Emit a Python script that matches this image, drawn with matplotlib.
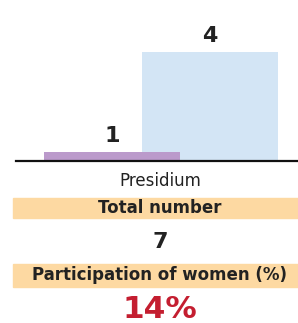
import matplotlib
matplotlib.use("Agg")
import matplotlib.pyplot as plt
from matplotlib.patches import Rectangle

categories = ["Women", "Men"]
values = [1, 4]
bar_colors = ["#BB9ACB", "#D3E5F5"]
group_label = "Presidium"
total_label = "Total number"
total_value = "7"
share_label = "Participation of women (%)"
share_value = "14%"

W, H = 298, 323
fig = plt.figure(figsize=(W / 100, H / 100), dpi=100)
plt.rcParams['font.family'] = ['DejaVu Sans']

def fx(px):
    return px / W

def fy(py):
    return 1 - py / H

# bar axes
ax_left, ax_right, ax_bottom, ax_top = 16, 298, 161, 21
ax = fig.add_axes([fx(ax_left), fy(ax_bottom), fx(ax_right - ax_left), (ax_bottom - ax_top) / H])
ax.set_yscale('function', functions=(lambda v: v ** 1.8, lambda v: v ** (1 / 1.8)))
positions = [0, 0.72]
# draw men first so women's bar sits on top
for i in [1, 0]:
    ax.bar(positions[i], values[i], width=1.0, color=bar_colors[i], zorder=2 + (1 - i))
    ax.annotate(str(values[i]), (positions[i], values[i]), xytext=(0, 11.5),
                textcoords='offset points', ha='center', va='center',
                fontsize=16, fontweight='bold', color='#222222')
ax.set_xlim(-0.706, 1.368)
ax.set_ylim(0, 4.6)
for s in ['top', 'right', 'left']:
    ax.spines[s].set_visible(False)
ax.spines['bottom'].set_linewidth(1.6)
ax.spines['bottom'].set_color('#111111')
ax.spines['bottom'].set_zorder(5)
ax.set_xticks([])
ax.set_yticks([])
ax.patch.set_alpha(0)

band_color = "#FDD9A2"
fig.patches.append(Rectangle((fx(13), fy(218)), fx(298 - 13), 20 / H,
                             transform=fig.transFigure, color=band_color, zorder=0))
fig.patches.append(Rectangle((fx(13), fy(287)), fx(298 - 13), 23 / H,
                             transform=fig.transFigure, color=band_color, zorder=0))

cx = fx(160)
fig.text(cx, fy(181), group_label, ha='center', va='center', fontsize=12, color='#222222')
fig.text(cx, fy(208), total_label, ha='center', va='center', fontsize=12, fontweight='bold', color='#222222')
fig.text(cx, fy(242), total_value, ha='center', va='center', fontsize=16, fontweight='bold', color='#222222')
fig.text(cx, fy(275), share_label, ha='center', va='center', fontsize=12, fontweight='bold', color='#222222')
fig.text(cx, fy(309), share_value, ha='center', va='center', fontsize=22.5, fontweight='bold', color='#C41E30')

fig.savefig("out.png", dpi=100)
